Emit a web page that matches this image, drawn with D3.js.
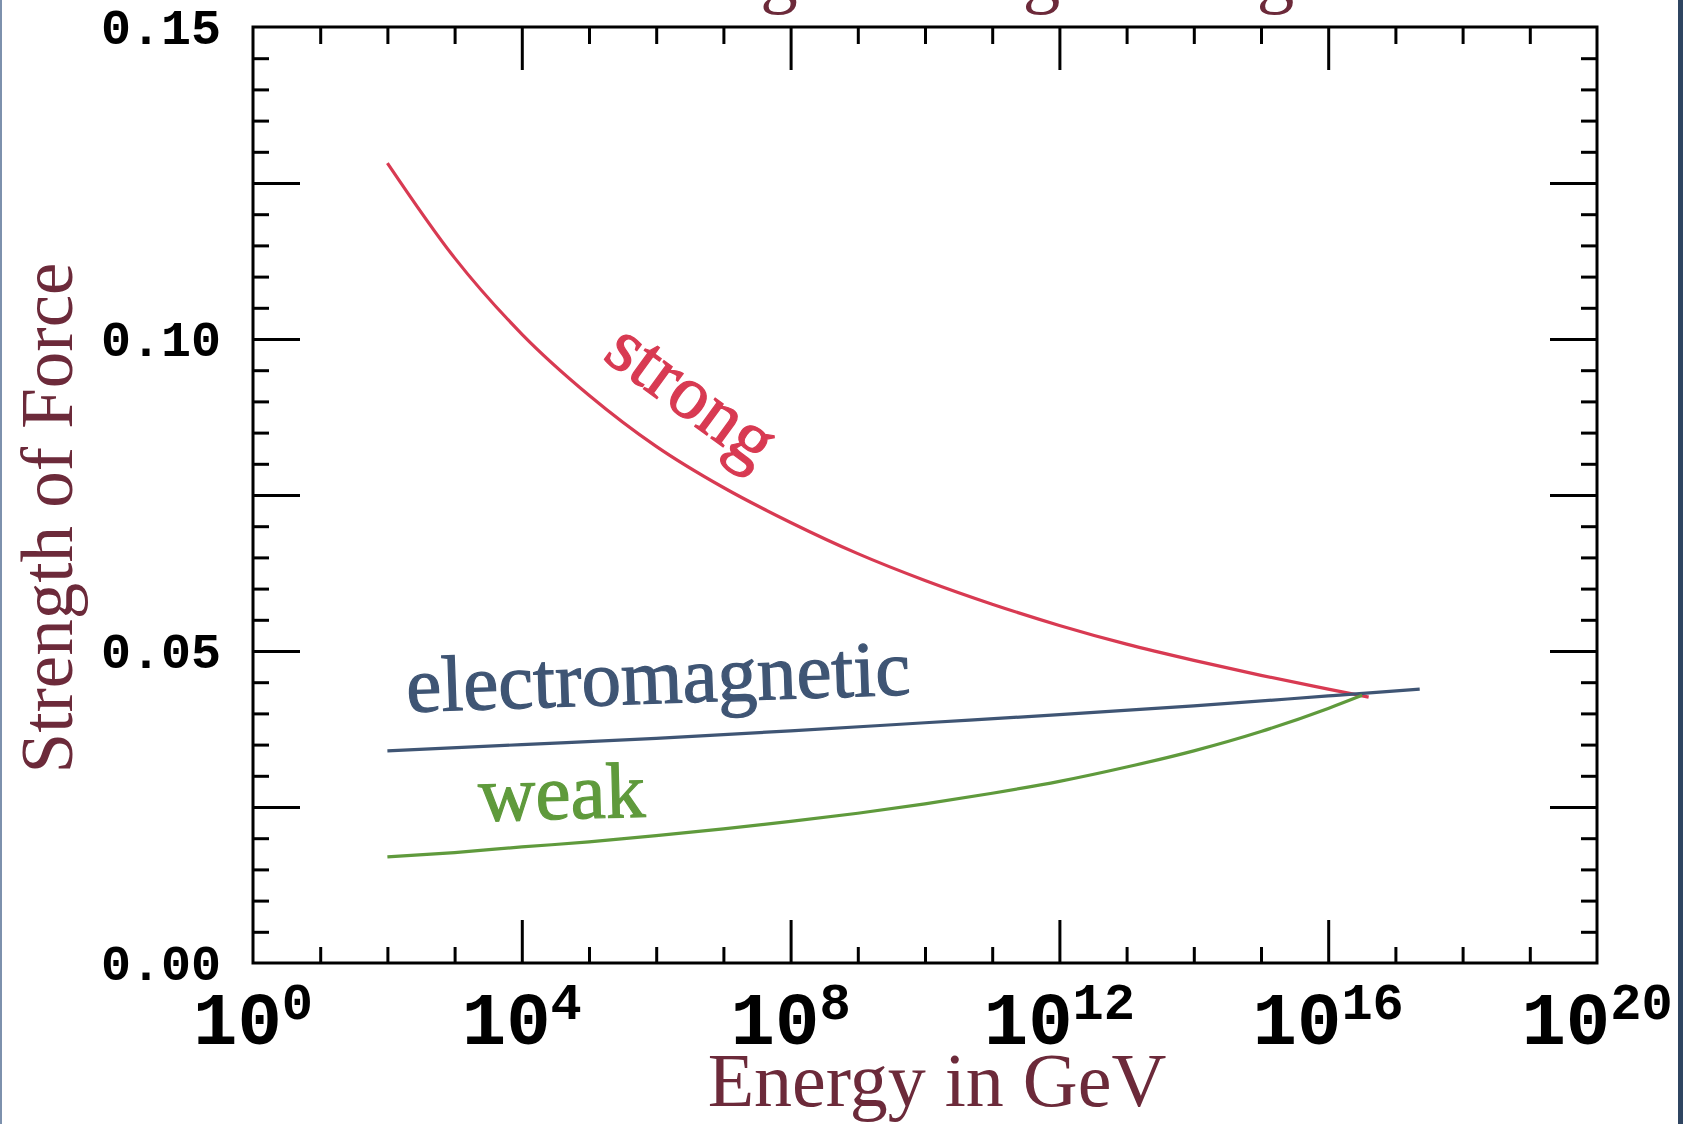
<!DOCTYPE html>
<html>
<head>
<meta charset="utf-8">
<script src="https://cdn.jsdelivr.net/npm/d3@7/dist/d3.min.js"></script>
<style>
  html, body { margin: 0; padding: 0; background: #ffffff; overflow: hidden; }
  svg { display: block; }
</style>
</head>
<body>
<svg id="chart" width="1683" height="1124"></svg>
<script>
// ---- data ----
const titleText = "Force Strength at High Energies";
const xTitle = "Energy in GeV";
const yTitle = "Strength of Force";

// x tick labels: powers of ten shown as 10^n
const xLabelExps = [0, 4, 8, 12, 16, 20];
const yLabelValues = [0.00, 0.05, 0.10, 0.15];
const yLabelTexts = ["0.00", "0.05", "0.10", "0.15"];

// strong force (energy in GeV, coupling strength)
const strongEnergy = [1e2, 1e3, 1e4, 1e5, 1e6, 1e7, 1e8, 1e9, 1e10, 1e11, 1e12, 1e13, 1e14, 1e15, 1e16, 4e16];
const strongValues = [0.1282, 0.1130, 0.1008, 0.0910, 0.0828, 0.0762, 0.0706, 0.0656, 0.0613, 0.0575, 0.0541, 0.0511, 0.0485, 0.0461, 0.0439, 0.0426];

// electromagnetic
const emEnergy = [1e2, 1e4, 1e6, 1e8, 1e10, 1e12, 1e14, 1e16, 2.3e17];
const emValues = [0.0340, 0.0350, 0.0360, 0.0372, 0.0385, 0.0398, 0.0412, 0.0428, 0.0439];

// weak
const weakEnergy = [1e2, 1e3, 1e4, 1e5, 1e6, 1e7, 1e8, 1e9, 1e10, 1e11, 1e12, 1e13, 1e14, 1e15, 1e16, 3.2e16];
const weakValues = [0.0170, 0.0177, 0.0186, 0.0194, 0.0204, 0.0215, 0.0227, 0.0240, 0.0255, 0.0272, 0.0291, 0.0314, 0.0340, 0.0371, 0.0408, 0.0429];

const seriesNames = ["strong", "electromagnetic", "weak"];

// ---- layout ----
const svg = d3.select("#chart");
const W = 1683, H = 1124;
const plotL = 253, plotR = 1597, plotT = 27, plotB = 963;

const colStrong = "#d83a52";
const colEM = "#3f5574";
const colWeak = "#5f9a3c";
const colTitle = "#6c2a3a";

const x = d3.scaleLog().domain([1, 1e20]).range([plotL, plotR]);
const y = d3.scaleLinear().domain([0, 0.15]).range([plotB, plotT]);

svg.append("rect").attr("width", W).attr("height", H).attr("fill", "#ffffff");

// page frame edges
svg.append("rect").attr("x", 0).attr("y", 0).attr("width", 2).attr("height", H).attr("fill", "#7d91ad");
svg.append("rect").attr("x", 1678).attr("y", 0).attr("width", 5).attr("height", H).attr("fill", "#2f4561");

// title (mostly cut off at the top, as in the picture)
svg.append("text")
  .attr("x", 895).attr("y", -1)
  .attr("text-anchor", "middle")
  .attr("font-family", "'Liberation Serif', 'Times New Roman', serif")
  .attr("font-size", 75)
  .attr("fill", colTitle)
  .text(titleText);

// ---- ticks ----
const decades = d3.range(0, 21).map(e => Math.pow(10, e));
const xMajor = decades.filter((d, i) => i % 4 === 0 && i > 0 && i < 20);
const xMinor = decades.filter((d, i) => i % 4 !== 0);
const yMajor = d3.range(1, 6).map(i => +(i * 0.025).toFixed(3));
const yMinor = d3.range(1, 30).map(i => +(i * 0.005).toFixed(3)).filter(v => Math.abs(v / 0.025 - Math.round(v / 0.025)) > 1e-6);

function styleAxis(g) {
  g.select(".domain").remove();
  g.selectAll(".tick line").attr("stroke", "#000").attr("stroke-width", 3);
  g.selectAll(".tick text").remove();
}

const minorLen = 16, majorLenX = 43, majorLenY = 47;

svg.append("g").attr("transform", `translate(0,${plotB})`)
  .call(d3.axisBottom(x).tickValues(xMinor).tickSize(-minorLen).tickFormat("")).call(styleAxis);
svg.append("g").attr("transform", `translate(0,${plotB})`)
  .call(d3.axisBottom(x).tickValues(xMajor).tickSize(-majorLenX).tickFormat("")).call(styleAxis);
svg.append("g").attr("transform", `translate(0,${plotT})`)
  .call(d3.axisTop(x).tickValues(xMinor).tickSize(-minorLen - 1).tickFormat("")).call(styleAxis);
svg.append("g").attr("transform", `translate(0,${plotT})`)
  .call(d3.axisTop(x).tickValues(xMajor).tickSize(-majorLenX).tickFormat("")).call(styleAxis);

svg.append("g").attr("transform", `translate(${plotL},0)`)
  .call(d3.axisLeft(y).tickValues(yMinor).tickSize(-minorLen).tickFormat("")).call(styleAxis);
svg.append("g").attr("transform", `translate(${plotL},0)`)
  .call(d3.axisLeft(y).tickValues(yMajor).tickSize(-majorLenY).tickFormat("")).call(styleAxis);
svg.append("g").attr("transform", `translate(${plotR},0)`)
  .call(d3.axisRight(y).tickValues(yMinor).tickSize(-minorLen).tickFormat("")).call(styleAxis);
svg.append("g").attr("transform", `translate(${plotR},0)`)
  .call(d3.axisRight(y).tickValues(yMajor).tickSize(-majorLenY).tickFormat("")).call(styleAxis);

// frame
svg.append("rect")
  .attr("x", plotL).attr("y", plotT)
  .attr("width", plotR - plotL).attr("height", plotB - plotT)
  .attr("fill", "none").attr("stroke", "#000").attr("stroke-width", 3);

// ---- tick labels ----
const monoFont = "'Liberation Mono', 'DejaVu Sans Mono', monospace";
yLabelValues.forEach((v, i) => {
  svg.append("text")
    .attr("x", 221).attr("y", y(v))
    .attr("dy", "0.34em")
    .attr("text-anchor", "end")
    .attr("font-family", monoFont)
    .attr("font-weight", "bold")
    .attr("font-size", 50)
    .attr("fill", "#000")
    .text(yLabelTexts[i]);
});

xLabelExps.forEach(e => {
  const t = svg.append("text")
    .attr("x", x(Math.pow(10, e))).attr("y", 1044)
    .attr("text-anchor", "middle")
    .attr("font-family", monoFont)
    .attr("font-weight", "bold")
    .attr("fill", "#000");
  t.append("tspan").attr("font-size", 74).text("10");
  t.append("tspan").attr("font-size", 52).attr("dy", -25).text(String(e));
});

// ---- axis titles ----
const serif = "'Liberation Serif', 'Times New Roman', serif";
svg.append("text")
  .attr("x", 937).attr("y", 1106)
  .attr("text-anchor", "middle")
  .attr("font-family", serif)
  .attr("font-size", 76)
  .attr("fill", colTitle)
  .text(xTitle);

svg.append("text")
  .attr("transform", "translate(72,518) rotate(-90)")
  .attr("text-anchor", "middle")
  .attr("font-family", serif)
  .attr("font-size", 73)
  .attr("fill", colTitle)
  .text(yTitle);

// ---- curves ----
const line = d3.line().x(d => x(d[0])).y(d => y(d[1])).curve(d3.curveMonotoneX);
const series = [
  { name: seriesNames[0], e: strongEnergy, v: strongValues, c: colStrong },
  { name: seriesNames[1], e: emEnergy, v: emValues, c: colEM },
  { name: seriesNames[2], e: weakEnergy, v: weakValues, c: colWeak }
];
series.forEach(s => {
  svg.append("path")
    .datum(s.e.map((e, i) => [e, s.v[i]]))
    .attr("d", line)
    .attr("fill", "none")
    .attr("stroke", s.c)
    .attr("stroke-width", 3.2)
    .attr("stroke-linejoin", "round");
});

// ---- curve labels ----
svg.append("text")
  .attr("transform", "translate(678,414) rotate(36)")
  .attr("text-anchor", "middle")
  .attr("font-family", serif)
  .attr("font-size", 76)
  .attr("fill", colStrong)
  .attr("stroke", colStrong).attr("stroke-width", 1.2)
  .text(seriesNames[0]);

svg.append("text")
  .attr("transform", "translate(407,712) rotate(-2)")
  .attr("font-family", serif)
  .attr("font-size", 79)
  .attr("fill", colEM)
  .attr("stroke", colEM).attr("stroke-width", 1.2)
  .text(seriesNames[1]);

svg.append("text")
  .attr("transform", "translate(479,821) rotate(-1.5)")
  .attr("font-family", serif)
  .attr("font-size", 79)
  .attr("fill", colWeak)
  .attr("stroke", colWeak).attr("stroke-width", 1.2)
  .text(seriesNames[2]);
</script>
</body>
</html>
